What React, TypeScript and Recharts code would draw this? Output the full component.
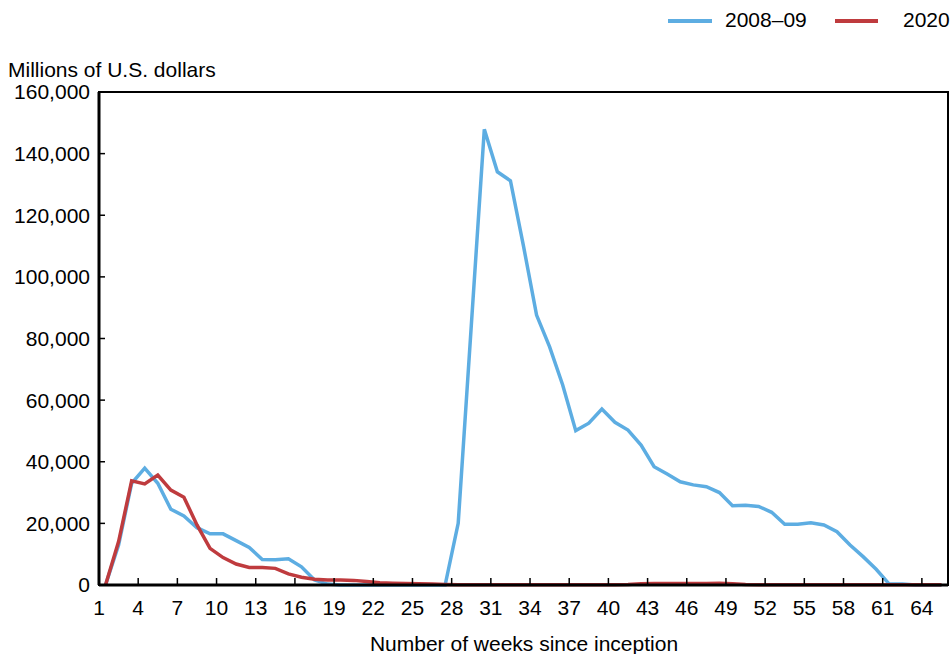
import { LineChart, Line, XAxis, YAxis, ReferenceArea } from "recharts";

// millions of U.S. dollars, one value per week since inception (week 1 first)
const crisis2008 = [
  0, 13000, 33000, 37900, 33000, 24600, 22400, 18600, 16600, 16600,
  14400, 12200, 8300, 8200, 8500, 5900, 1600, 300, 0, 0,
  0, 0, 0, 0, 0, 0, 0, 20000, 84000, 147900,
  134100, 131200, 110000, 87600, 77300, 64900, 50100, 52500, 57100, 52800,
  50300, 45400, 38400, 36000, 33500, 32500, 31900, 30000, 25700, 25900,
  25500, 23600, 19700, 19700, 20200, 19500, 17300, 13000, 9200, 5100,
  300, 300, 0, 0, 0,
];

const covid2020 = [
  0, 14100, 33800, 32800, 35700, 30800, 28500, 19500, 11900, 8900,
  6800, 5700, 5700, 5400, 3600, 2500, 1900, 1600, 1600, 1500,
  1100, 700, 600, 500, 400, 300, 200, 100, 100, 100,
  100, 100, 100, 100, 100, 100, 100, 100, 100, 100,
  200, 400, 500, 500, 500, 500, 500, 600, 400, 200,
  100, 100, 100, 100, 100, 100, 100, 100, 100, 100,
  100, 100, 100, 100, 100,
];

const weekTicks = [1, 4, 7, 10, 13, 16, 19, 22, 25, 28, 31, 34, 37, 40, 43, 46, 49, 52, 55, 58, 61, 64];
const valueTicks = [0, 20000, 40000, 60000, 80000, 100000, 120000, 140000, 160000];

const BLUE = "#5dade2";
const RED = "#bf3b3e";
const FONT = "'Liberation Sans', Arial, sans-serif";

// each week is drawn in the middle of its slot on the week axis
const data = crisis2008.map((v, i) => ({
  week: i + 1.5,
  a: v,
  b: covid2020[i],
}));

const tickStyle = { fontFamily: FONT, fontSize: 21, fill: "#000" };

function App() {
  return (
    <div
      style={{
        position: "absolute",
        left: 0,
        top: 0,
        width: 950,
        height: 654,
        fontFamily: FONT,
        color: "#000",
        background: "#fff",
      }}
    >
      <LineChart
        width={950}
        height={654}
        data={data}
        margin={{ top: 92, right: 2, bottom: 0, left: 0 }}
      >
        {/* plot frame */}
        <ReferenceArea
          x1={1}
          x2={66}
          y1={0}
          y2={160000}
          fill="none"
          fillOpacity={0}
          stroke="#000"
          strokeWidth={2}
          ifOverflow="visible"
        />
        <XAxis
          dataKey="week"
          type="number"
          domain={[1, 66]}
          ticks={weekTicks}
          interval={0}
          height={69}
          tickSize={-7}
          tickMargin={22}
          tick={tickStyle}
          axisLine={{ stroke: "#000", strokeWidth: 3 }}
          tickLine={{ stroke: "#000", strokeWidth: 1.5 }}
        />
        <YAxis
          domain={[0, 160000]}
          ticks={valueTicks}
          interval={0}
          width={99}
          tickSize={-6}
          tickMargin={15}
          tick={tickStyle}
          tickFormatter={(v: number) => v.toLocaleString("en-US")}
          axisLine={{ stroke: "#000", strokeWidth: 3 }}
          tickLine={{ stroke: "#000", strokeWidth: 1.5 }}
        />
        <Line
          type="linear"
          dataKey="a"
          name="2008–09"
          stroke={BLUE}
          strokeWidth={3.5}
          dot={false}
          isAnimationActive={false}
        />
        <Line
          type="linear"
          dataKey="b"
          name="2020"
          stroke={RED}
          strokeWidth={3.5}
          dot={false}
          isAnimationActive={false}
        />
      </LineChart>

      {/* legend */}
      <div style={{ position: "absolute", left: 668, top: 19, width: 44, height: 4, background: BLUE }} />
      <div style={{ position: "absolute", left: 725, top: 8, fontSize: 21, lineHeight: "24px", whiteSpace: "nowrap" }}>
        2008–09
      </div>
      <div style={{ position: "absolute", left: 835, top: 19, width: 43, height: 4, background: RED }} />
      <div style={{ position: "absolute", left: 903, top: 8, fontSize: 21, lineHeight: "24px", whiteSpace: "nowrap" }}>
        2020
      </div>

      {/* axis titles */}
      <div style={{ position: "absolute", left: 8, top: 58, fontSize: 21, lineHeight: "24px", whiteSpace: "nowrap" }}>
        Millions of U.S. dollars
      </div>
      <div
        style={{
          position: "absolute",
          left: 324,
          width: 400,
          top: 632,
          fontSize: 21,
          lineHeight: "24px",
          textAlign: "center",
          whiteSpace: "nowrap",
        }}
      >
        Number of weeks since inception
      </div>
    </div>
  );
}

export default App;
